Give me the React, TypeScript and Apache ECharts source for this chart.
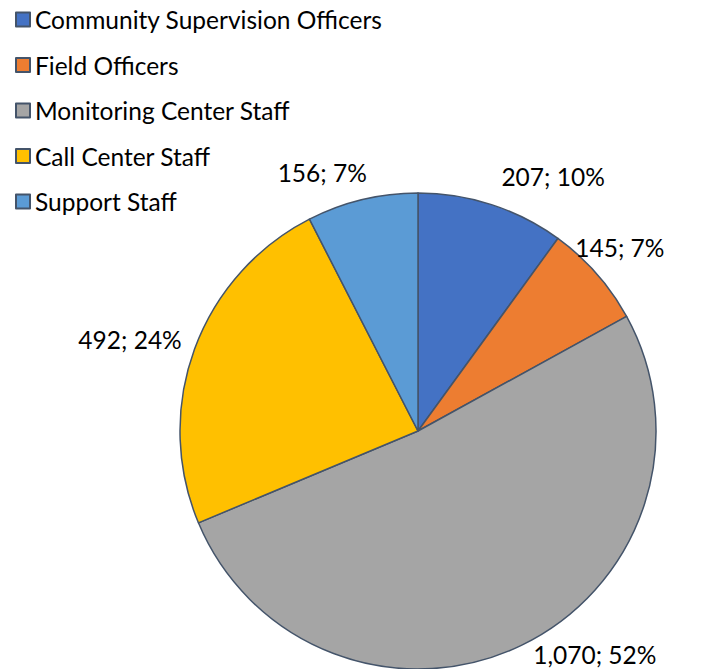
import React, { useEffect, useRef } from "react";
import * as echarts from "echarts";

const categories = [
  "Community Supervision Officers",
  "Field Officers",
  "Monitoring Center Staff",
  "Call Center Staff",
  "Support Staff",
];
const values = [207, 145, 1070, 492, 156];
const colors = ["#4472C4", "#ED7D31", "#A5A5A5", "#FFC000", "#5B9BD5"];

// label placement (Excel "best fit"), angle in degrees and distance as ratio of radius
const labelAngles = [62.0, 42.2, -51.6, 162.3, 110.3];
const labelDist = [1.209, 1.145, 1.196, 1.27, 1.16];

const CX = 418;
const CY = 431;
const R = 238;
const FONT = "Lato, 'Open Sans', sans-serif";
const FS = 24.5;

export default function App() {
  const ref = useRef<HTMLDivElement>(null);
  useEffect(() => {
    document.body.style.margin = "0";
    const chart = echarts.init(ref.current!, null, { renderer: "svg" });
    chart.setOption({
      animation: false,
      backgroundColor: "#ffffff",
      legend: {
        orient: "vertical",
        left: 10,
        top: 2,
        icon: "rect",
        itemWidth: 14,
        itemHeight: 14,
        itemGap: 20.5,
        textStyle: { fontFamily: FONT, fontSize: FS, color: "#000", lineHeight: 25 },
        data: categories,
      },
      series: [
        {
          type: "pie",
          center: [CX, CY],
          radius: R,
          startAngle: 90,
          clockwise: true,
          percentPrecision: 0,
          data: categories.map((c, i) => ({
            name: c,
            value: values[i],
            itemStyle: { color: colors[i] },
          })),
          itemStyle: { borderColor: "#44546A", borderWidth: 1.5 },
          label: {
            show: true,
            position: "outside",
            fontFamily: FONT,
            fontSize: FS,
            color: "#000",
            overflow: "none",
            edgeDistance: 0,
            formatter: (p: any) =>
              `${Number(p.value).toLocaleString("en-US")}; ${p.percent}%`,
          },
          labelLine: { show: false },
          labelLayout: (p: any) => {
            const i = p.dataIndex;
            const a = (labelAngles[i] * Math.PI) / 180;
            const d = labelDist[i] * R;
            return {
              x: CX + d * Math.cos(a),
              y: CY - d * Math.sin(a),
              align: "center",
              verticalAlign: "middle",
            };
          },
          emphasis: { disabled: true },
        },
      ],
    });
    return () => chart.dispose();
  }, []);
  return <div ref={ref} style={{ width: 703, height: 669 }} />;
}
